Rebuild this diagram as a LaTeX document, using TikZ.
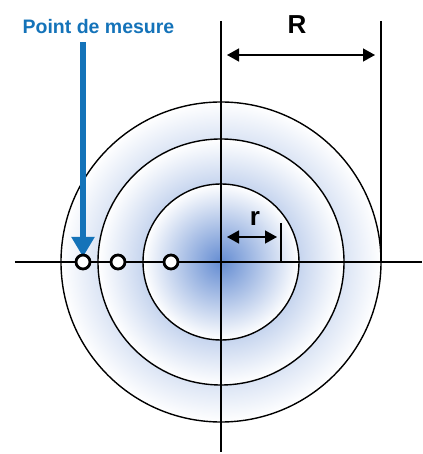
\documentclass[tikz,border=0pt]{standalone}
\usepackage{fontspec}
\setmainfont{Liberation Sans}
\usetikzlibrary{positioning, arrows.meta}
\definecolor{coreblue}{RGB}{100,140,210}
\definecolor{markblue}{RGB}{20,115,185}
\pgfdeclareradialshading{discshade}{\pgfpoint{0bp}{0bp}}{color(0bp)=(coreblue); color(25bp)=(white); color(50bp)=(white)}
\tikzset{
  disc/.style={draw=black, line width=1.4pt, shade, shading=discshade},
  axis/.style={draw=black, line width=1.3pt},
  probe/.style={circle, draw=black, fill=white, line width=2.8pt, minimum size=14pt, inner sep=0pt},
  dimarrow/.style={line width=1.4pt, {Triangle[length=12pt,width=13pt]}-{Triangle[length=12pt,width=13pt]}},
  pointer/.style={draw=markblue, line width=6pt, -{Triangle[length=20pt,width=22pt]}},
  tag/.style={font=\bfseries\fontsize{19.5}{22}\selectfont, text=markblue, inner sep=0pt},
  dimlabel/.style={font=\bfseries\fontsize{26}{28}\selectfont, inner sep=0pt},
}

\begin{document}
\begin{tikzpicture}[x=1pt, y=1pt]
  \useasboundingbox (-221,-192) rectangle (201,262);

  % shaded rings
  \path[disc] (0,0) circle (160pt);
  \path[disc] (0,0) circle (123pt);
  \path[disc] (0,0) circle (78pt);

  % axes
  \coordinate (xl) at (-206,0);
  \coordinate (xr) at (201,0);
  \coordinate (yt) at (0,241);
  \coordinate (yb) at (0,-190);
  \draw[axis] (xl) -- (xr);
  \draw[axis] (yt) -- (yb);

  % R dimension
  \coordinate (Rtop) at (160,241);
  \coordinate (Rfoot) at (160,0);
  \draw[axis] (Rtop) -- (Rfoot);
  \coordinate (Ra) at (6,207);
  \coordinate (Rb) at (154,207);
  \draw[dimarrow] (Ra) -- (Rb);
  \node[dimlabel] (Rlab) at (76,237) {R};

  % r dimension
  \coordinate (rtop) at (60,39);
  \coordinate (rfoot) at (60,0);
  \draw[axis] (rtop) -- (rfoot);
  \coordinate (ra) at (6,25);
  \coordinate (rb) at (56,25);
  \draw[dimarrow] (ra) -- (rb);
  \node[dimlabel] (rlab) at (34,43) {r};

  % measuring points
  \node[tag] (pdm) at (-122.5,235) {Point de mesure};
  \draw[pointer] ([yshift=-8pt]pdm.south -| -138,0) -- (-138,5);
  \node[probe] (m1) at (-138,0) {};
  \node[probe] (m2) at (-103,0) {};
  \node[probe] (m3) at (-50,0) {};
\end{tikzpicture}
\end{document}
